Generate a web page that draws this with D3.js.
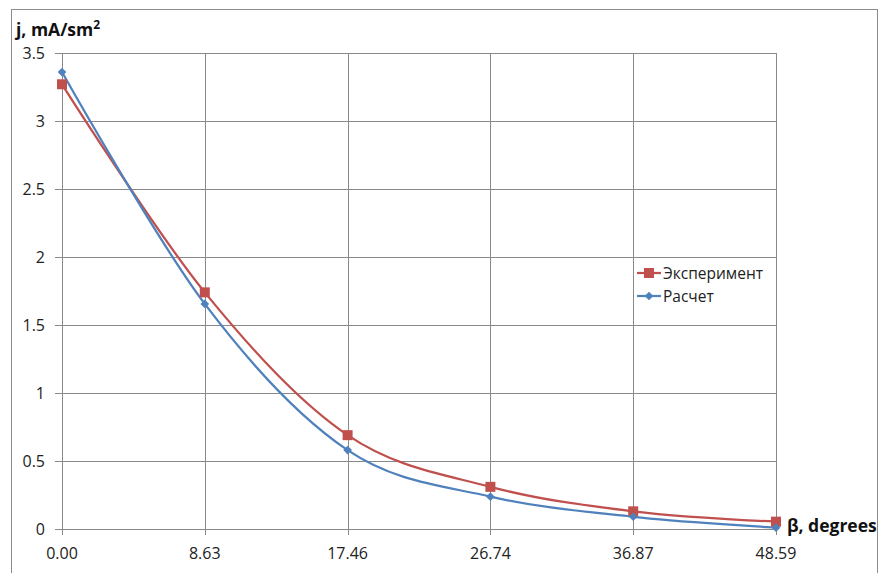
<!DOCTYPE html>
<html><head><meta charset="utf-8">
<script src="https://cdn.jsdelivr.net/npm/d3@7"></script>
<style>
body{margin:0;background:#fff;}
svg{display:block;font-family:"Open Sans","Liberation Sans",sans-serif;}
</style></head>
<body>
<svg id="chart" width="881" height="573"></svg>
<script>
const categories = ["0.00","8.63","17.46","26.74","36.87","48.59"];
const experiment = [3.27, 1.74, 0.69, 0.31, 0.13, 0.054];
const calculation = [3.36, 1.655, 0.58, 0.238, 0.09, 0.01];
const yTicks = [0, 0.5, 1, 1.5, 2, 2.5, 3, 3.5];
const seriesNames = ["Эксперимент", "Расчет"];

(function(){
const svg = d3.select("#chart");
const pL = 62, pR = 776, pT = 53, pB = 529;

svg.append("rect").attr("x",11.5).attr("y",9.5).attr("width",866).attr("height",580)
  .attr("fill","#fff").attr("stroke","#8c8c8c").attr("stroke-width",1);

const x = d3.scalePoint().domain(categories).range([pL, pR]);
const y = d3.scaleLinear().domain([0, 3.5]).range([pB, pT]);

const grid = svg.append("g").attr("stroke","#898989").attr("stroke-width",1);
yTicks.forEach(t => {
  grid.append("line").attr("x1",pL-7).attr("x2",pR).attr("y1",Math.round(y(t))+0.5).attr("y2",Math.round(y(t))+0.5);
});
categories.forEach(c => {
  grid.append("line").attr("x1",Math.round(x(c))+0.5).attr("x2",Math.round(x(c))+0.5).attr("y1",pT).attr("y2",pB+6);
});

const yAxis = svg.append("g").attr("font-size",16).attr("fill","#222");
yTicks.forEach(t => {
  yAxis.append("text").attr("x",45).attr("y",y(t)+5.5).attr("text-anchor","end").text(d3.format("")(t));
});
const xAxis = svg.append("g").attr("font-size",16).attr("fill","#222");
categories.forEach(c => {
  xAxis.append("text").attr("x",x(c)).attr("y",559).attr("text-anchor","middle").text(c);
});

const line = d3.line().x((d,i)=>x(categories[i])).y(d=>y(d)).curve(d3.curveCatmullRom.alpha(0));
const colors = ["#c0504d","#4f81bd"];
[experiment, calculation].forEach((s,k)=>{
  svg.append("path").attr("d", line(s)).attr("fill","none").attr("stroke",colors[k]).attr("stroke-width",2.25);
});
svg.append("g").selectAll("rect").data(experiment).join("rect")
  .attr("x",(d,i)=>x(categories[i])-5).attr("y",d=>y(d)-5).attr("width",10).attr("height",10).attr("fill",colors[0]);
const diamond = d3.symbol().type(d3.symbolDiamond2).size(48);
svg.append("g").selectAll("path").data(calculation).join("path")
  .attr("transform",(d,i)=>`translate(${x(categories[i])},${y(d)})`).attr("d",diamond).attr("fill",colors[1]);

const lg = svg.append("g").attr("font-size",15.5).attr("fill","#222");
[0,1].forEach(k=>{
  const ly = 273 + k*23;
  lg.append("line").attr("x1",637).attr("x2",661).attr("y1",ly).attr("y2",ly).attr("stroke",colors[k]).attr("stroke-width",2.25);
  if(k===0) lg.append("rect").attr("x",644).attr("y",ly-5).attr("width",10).attr("height",10).attr("fill",colors[0]);
  else lg.append("path").attr("transform",`translate(649,${ly})`).attr("d",diamond).attr("fill",colors[1]);
  lg.append("text").attr("x",663).attr("y",ly+5.5).text(seriesNames[k]);
});

svg.append("text").attr("x",16).attr("y",36).attr("font-size",17.5).attr("font-weight","bold").attr("fill","#111")
  .html('j, mA/sm<tspan dy="-7" font-size="12">2</tspan>');
svg.append("text").attr("x",787).attr("y",532).attr("font-size",17.5).attr("font-weight","bold").attr("fill","#111")
  .text("β, degrees");
})();
</script>
</body></html>
